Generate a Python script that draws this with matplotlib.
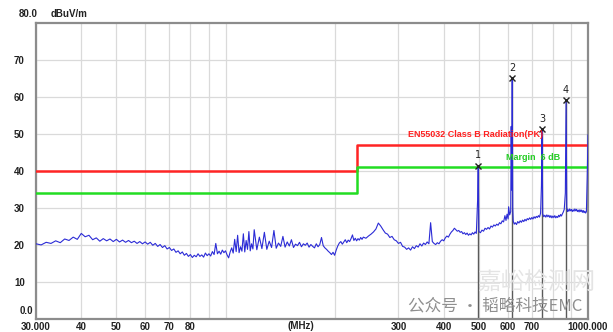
import matplotlib.pyplot as plt

# measured trace (MHz, dBuV/m), read segment by segment
freq_a = [30, 31, 32, 33, 34, 35, 36, 37, 38, 39, 40, 41, 42, 43, 44, 45, 46, 47, 48, 49,
          50, 51, 52, 53, 54, 55, 56, 57, 58, 59, 60]
level_a = [20.3, 20.0, 20.7, 20.4, 21.1, 20.6, 21.6, 21.2, 22.1, 21.5, 23.1, 22.2, 22.6, 21.4, 21.9,
           21.0, 21.7, 21.1, 21.6, 20.9, 21.5, 20.8, 21.3, 20.7, 21.2, 20.6, 21.0, 20.4, 20.9, 20.3,
           20.8]

freq_b = [61, 62, 63, 64, 65, 66, 67, 68, 69, 70, 71, 72, 73, 74, 75, 76, 77, 78, 79, 80,
          81, 82, 83, 84, 85, 86, 87, 88, 89, 90, 91, 92, 93, 94, 95, 96, 97, 98, 99, 100,
          101, 102, 103, 104, 105, 106, 107, 108, 109, 110, 111, 112, 113, 114, 115, 116, 117, 118, 119, 120]
level_b = [20.2, 20.7, 19.9, 20.4, 19.6, 20.1, 19.3, 19.8, 18.9, 19.3, 18.5, 18.9, 18.0, 18.4, 17.6,
           18.1, 17.2, 17.7, 16.9, 17.4,
           16.6, 17.2, 16.8, 17.6, 16.9, 17.3, 16.7, 17.8, 17.1, 17.6, 17.0, 18.2, 17.4, 20.4, 17.6,
           18.3, 17.5, 18.6, 17.9, 18.4,
           17.3, 16.5, 18.1, 19.2, 17.8, 21.5, 18.2, 22.6, 17.9, 19.5, 18.3, 23.0, 18.1, 21.2, 18.8,
           23.6, 18.4, 20.3, 18.9, 24.1]

freq_c = [122, 124, 126, 128, 130, 132, 134, 136, 138, 140, 142, 144, 146, 148, 150, 152, 154, 156, 158, 160,
          162, 164, 166, 168, 170, 172, 174, 176, 178, 180, 182, 184, 186, 188, 190, 192, 194, 196, 198, 200,
          202, 204, 206, 208, 210, 212, 214, 216, 218, 220, 222, 224, 226, 228, 230, 232, 234, 236, 238, 240]
level_c = [18.7, 22.1, 19.0, 23.4, 18.8, 21.0, 19.3, 23.9, 19.1, 20.5, 19.6, 22.3, 19.4, 20.8, 19.7,
           21.4, 19.3, 20.2, 19.8, 20.7,
           19.5, 20.3, 19.9, 20.5, 19.4, 20.1, 19.6, 19.2, 20.3, 19.5, 20.1, 22.0, 19.8, 19.2, 18.8,
           18.3, 17.9, 17.4, 18.0, 17.2,
           18.6, 19.7, 20.5, 20.9, 20.2, 20.8, 21.4, 20.6, 21.3, 20.9, 21.7, 22.7, 21.2, 21.8, 21.1,
           21.7, 21.3, 22.0, 21.5, 22.1]

freq_d = [244, 248, 252, 256, 260, 264, 268, 272, 276, 280, 284, 288, 292, 296, 300, 304, 308, 312, 316, 320,
          324, 328, 332, 336, 340, 344, 348, 352, 356, 360, 364, 368, 372, 376, 380, 384, 388, 392, 396, 400,
          404, 408, 412, 416, 420, 424, 428, 432, 436, 440, 444, 448, 452, 456, 460, 464, 468, 472, 476, 480]
level_d = [21.8, 22.4, 22.9, 23.5, 24.3, 25.9, 25.1, 24.1, 23.2, 22.9, 22.0, 22.3, 21.4, 21.1, 20.4,
           20.7, 19.6, 19.4, 18.8, 19.2,
           18.6, 19.5, 19.0, 19.8, 19.4, 20.3, 19.7, 20.5, 20.1, 20.8, 20.3, 26.0, 20.9, 20.4, 20.1,
           20.6, 20.3, 21.0, 21.4, 21.1,
           21.9, 22.4, 22.1, 22.9, 23.5, 23.9, 24.5, 24.1, 23.7, 23.9, 23.4, 23.6, 23.0, 23.3, 22.8,
           23.2, 22.6, 23.0, 22.7, 23.3]

freq_e = [484, 488, 492, 496, 498, 500, 505, 510, 515, 520, 525, 530, 535, 540, 545, 550, 555, 560, 565, 570,
          575, 580, 585, 590, 594, 598, 602, 604, 608, 612, 614, 616, 618, 620, 622, 626, 630, 635, 640, 645,
          650, 655, 660, 665, 670, 675, 680, 685, 690, 695, 700, 705, 710, 715, 720, 725, 730, 735, 740, 744,
          747, 750, 755, 760, 765, 770, 775, 780, 785, 790, 795, 800, 805, 810, 815, 820, 825, 830, 835, 840,
          845, 850, 855, 860, 866, 870, 874, 878, 882, 886, 890, 895, 900, 905, 910, 915, 920, 925, 930, 935,
          940, 945, 950, 955, 960, 965, 970, 975, 980, 985, 990, 995, 1000]
level_e = [22.9, 23.5, 23.1, 32.1, 41.3, 23.6, 23.3, 24.0, 23.7, 24.5, 24.2, 24.7, 24.3, 25.1, 24.8,
           25.4, 25.1, 25.6, 25.3, 26.0,
           25.7, 26.5, 26.2, 27.9, 26.6, 28.3, 27.0, 30.3, 28.1, 29.0, 52.0, 34.8, 65.0, 30.0, 26.4,
           25.6, 26.0, 25.5, 26.3, 25.9,
           26.5, 26.1, 26.7, 26.3, 26.9, 26.5, 27.1, 26.8, 27.3, 26.9, 27.4, 27.0, 27.6, 27.2, 27.7,
           27.4, 27.9, 27.5, 28.6, 36.0,
           51.2, 28.4, 27.6, 28.0, 27.5, 28.1, 27.6, 28.0, 27.4, 27.9, 27.3, 27.8, 27.4, 27.9, 27.3,
           27.7, 27.4, 28.0, 27.6, 28.2,
           27.8, 28.4, 28.9, 29.6, 34.0, 59.1, 30.2, 29.0, 29.5, 29.1, 29.7, 29.2, 29.6, 29.0, 29.5,
           29.1, 29.7, 29.2, 29.6, 29.0,
           29.4, 28.9, 29.5, 29.0, 29.4, 28.8, 29.3, 28.7, 29.1, 28.6, 29.0, 38.0, 49.7]

trace_freq = freq_a + freq_b + freq_c + freq_d + freq_e
trace_level = level_a + level_b + level_c + level_d + level_e

# limit lines
limit_freq = [30, 230, 230, 1000]
limit_level = [40, 40, 47, 47]
margin_level = [34, 34, 41, 41]

# peak markers
peak_freq = [498, 618, 747, 870]
peak_level = [41.3, 65.0, 51.2, 59.1]
peak_names = ['1', '2', '3', '4']

major_ticks = [30, 40, 50, 60, 70, 80, 300, 400, 500, 600, 700, 1000]
major_labels = ['30.000', '40', '50', '60', '70', '80', '300', '400', '500', '600', '700', '1000.000']
minor_ticks = [90, 100, 200, 800, 900]
y_ticks = [10, 20, 30, 40, 50, 60, 70]

lab_font = dict(family='Liberation Sans', weight='bold', size=7, color='#222222')

fig = plt.figure(figsize=(6.13, 3.32), dpi=100)
ax = fig.add_axes([0.0587, 0.0392, 0.9005, 0.8925])

ax.set_xscale('log')
ax.set_xlim(30, 1000)
ax.set_ylim(0, 80)

ax.set_xticks(major_ticks)
ax.set_xticklabels(major_labels)
ax.set_xticks(minor_ticks, minor=True)
ax.set_xticklabels([''] * len(minor_ticks), minor=True)
ax.set_yticks(y_ticks)
ax.set_yticklabels([str(v) for v in y_ticks])
for lbl in ax.get_xticklabels() + ax.get_yticklabels():
    lbl.set_fontproperties('Liberation Sans')
    lbl.set_fontweight('bold')
    lbl.set_fontsize(7)
    lbl.set_color('#222222')
ax.tick_params(axis='both', which='both', length=0)
ax.tick_params(axis='x', pad=2)
ax.tick_params(axis='y', pad=8)

ax.grid(True, which='both', color='#dadada', lw=0.9)
ax.set_axisbelow(True)
for sp in ax.spines.values():
    sp.set_color('#8c8c8c')
    sp.set_linewidth(1.6)

# marker drop lines
ax.vlines(peak_freq, 0, peak_level, color='#5a5a5a', lw=1.0, zorder=2)

ax.plot(limit_freq, limit_level, color='#ff2424', lw=1.8, zorder=3)
ax.plot(limit_freq, margin_level, color='#22dd22', lw=1.8, zorder=3)
ax.plot(trace_freq, trace_level, color='#2b2bd6', lw=0.8, zorder=4)

ax.plot(peak_freq, peak_level, 'x', color='#222222', ms=4, mew=1.0, zorder=5)
for f, v, n in zip(peak_freq, peak_level, peak_names):
    ax.annotate(n, (f, v), xytext=(0, 4), textcoords='offset points',
                ha='center', va='bottom', fontsize=7, color='#222222')

ax.text(751, 49.7, 'EN55032 Class B Radiation(PK)', ha='right', va='center',
        family='Liberation Sans', weight='bold', size=6.5, color='#ff2020', zorder=6)
ax.text(837, 43.6, 'Margin  6 dB', ha='right', va='center',
        family='Liberation Sans', weight='bold', size=6.5, color='#22cc22', zorder=6)

# axis captions outside the plot
fig.text(38 / 613, 1 - 14 / 332, '80.0', ha='right', va='center', **lab_font)
fig.text(51 / 613, 1 - 14 / 332, 'dBuV/m', ha='left', va='center', **lab_font)
fig.text(33 / 613, 1 - 311 / 332, '0.0', ha='right', va='center', **lab_font)
fig.text(301 / 613, 1 - 326 / 332, '(MHz)', ha='center', va='center', **lab_font)

# watermark
fig.text(536 / 613, 1 - 283 / 332, '嘉峪检测网', ha='center', va='center',
         family=['Noto Sans CJK SC', 'DejaVu Sans'], size=17, color='#e4e4e4', zorder=0)
fig.text(408 / 613, 1 - 306 / 332, '公众号 · 韬略科技EMC', ha='left', va='center',
         family=['Noto Sans CJK SC', 'DejaVu Sans'], size=12, color='#8f8f8f')

fig.savefig('out.png', dpi=100)
